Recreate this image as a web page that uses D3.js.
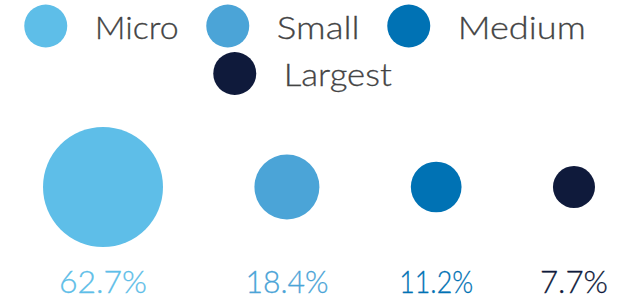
<!DOCTYPE html>
<html>
<head>
<meta charset="utf-8">
<script src="https://cdn.jsdelivr.net/npm/d3@7"></script>
<style>
  html, body { margin: 0; padding: 0; background: #fff; }
  svg { display: block; }
  text { font-family: "Lato", "Open Sans", sans-serif; font-weight: 300; }
</style>
</head>
<body>
<svg id="chart" width="627" height="299"></svg>
<script>
// ---- data ----
const categories = ["Micro", "Small", "Medium", "Largest"];
const values = [62.7, 18.4, 11.2, 7.7];
const valueLabels = ["62.7%", "18.4%", "11.2%", "7.7%"];
const colors = ["#5EBEE8", "#4BA4D7", "#0072B4", "#0F1A3B"];

const W = 627, H = 299;
const svg = d3.select("#chart");

// ---- legend ----
const legendRows = [["Micro", "Small", "Medium"], ["Largest"]];
const legendCenters = [305, 302.5];
const legendCy = [26, 73.5];
const legendBase = [39, 86];
const legendTextLen = { Micro: 84, Small: 83, Medium: 128, Largest: 108 };
const colorScale = d3.scaleOrdinal().domain(categories).range(colors);
const lr = 21.5, textGap = 27.5, itemGap = 27.5;

legendRows.forEach((row, ri) => {
  const widths = row.map(c => 2 * lr + textGap + legendTextLen[c]);
  const total = d3.sum(widths) + itemGap * (row.length - 1);
  let x = legendCenters[ri] - total / 2;
  row.forEach((c, i) => {
    const g = svg.append("g");
    g.append("circle")
      .attr("cx", x + lr).attr("cy", legendCy[ri]).attr("r", lr)
      .attr("fill", colorScale(c));
    g.append("text")
      .attr("x", x + 2 * lr + textGap).attr("y", legendBase[ri])
      .attr("font-size", 32)
      .attr("fill", "#444444")
      .attr("stroke", "#444444")
      .attr("stroke-width", 0.3)
      .attr("textLength", legendTextLen[c])
      .attr("lengthAdjust", "spacingAndGlyphs")
      .text(c);
    x += widths[i] + itemGap;
  });
});

// ---- bubbles ----
const rScale = d3.scaleSqrt().domain([0, d3.max(values)]).range([0, 60]);
const left = 43, right = 595;
const radii = values.map(v => rScale(v));
const gap = (right - left - d3.sum(radii) * 2) / (values.length - 1);
const cx = [];
let xx = left;
radii.forEach(r => { cx.push(xx + r); xx += 2 * r + gap; });
const cy = 187;

svg.selectAll("circle.bubble").data(values).join("circle")
  .attr("class", "bubble")
  .attr("cx", (d, i) => cx[i]).attr("cy", cy)
  .attr("r", d => rScale(d))
  .attr("fill", (d, i) => colors[i]);

const valueTextLen = [88, 83, 74, 68];
svg.selectAll("text.val").data(valueLabels).join("text")
  .attr("class", "val")
  .attr("x", (d, i) => cx[i]).attr("y", 292.5)
  .attr("text-anchor", "middle")
  .attr("font-size", 30.5)
  .attr("fill", (d, i) => colors[i])
  .attr("stroke", (d, i) => colors[i])
  .attr("stroke-width", 0.3)
  .attr("textLength", (d, i) => valueTextLen[i])
  .attr("lengthAdjust", "spacingAndGlyphs")
  .text(d => d);
</script>
</body>
</html>
